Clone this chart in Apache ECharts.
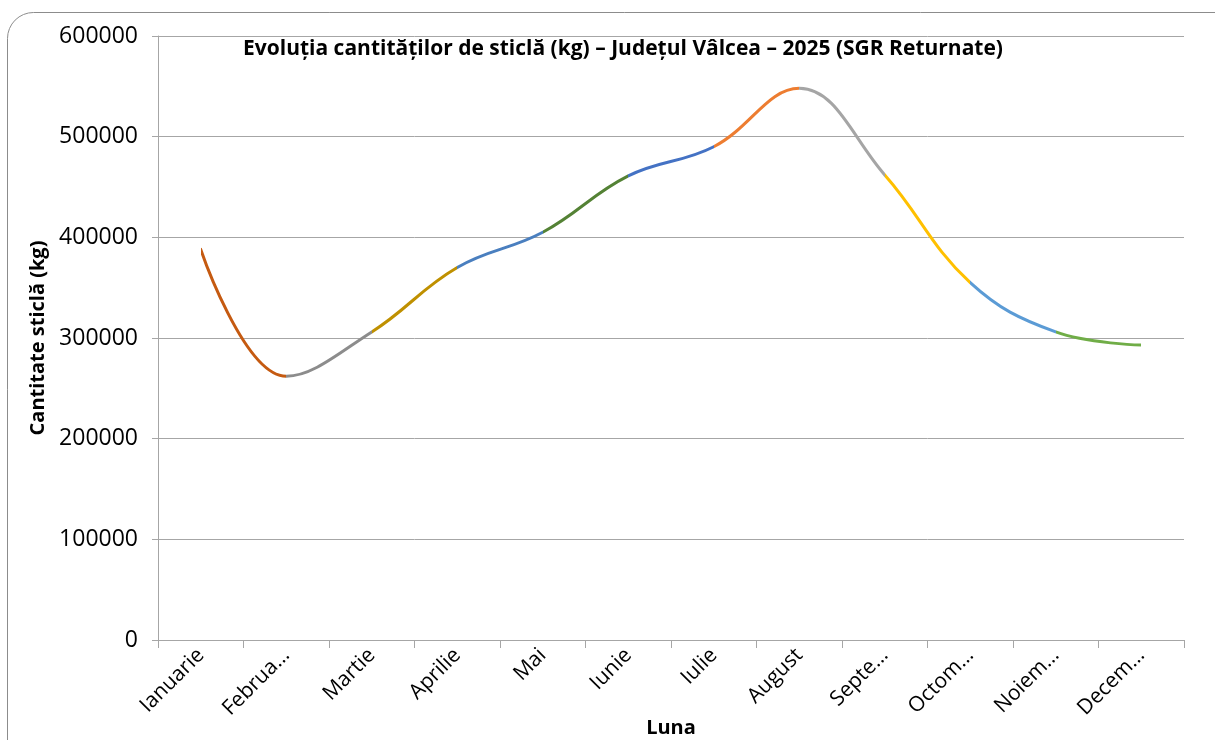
<!DOCTYPE html>
<html>
<head>
<meta charset="utf-8">
<script src="https://cdn.jsdelivr.net/npm/echarts@6/dist/echarts.min.js"></script>
<style>
html,body{margin:0;padding:0;background:#fff;overflow:hidden;width:1215px;height:740px;}
#chart{position:absolute;left:0;top:0;width:1215px;height:740px;}
</style>
</head>
<body>
<div id="chart"></div>
<script>
const months = ["Ianuarie","Februarie","Martie","Aprilie","Mai","Iunie","Iulie","August","Septembrie","Octombrie","Noiembrie","Decembrie"];
const tickLabels = ["Ianuarie","Februa…","Martie","Aprilie","Mai","Iunie","Iulie","August","Septe…","Octom…","Noiem…","Decem…"];
const values = [388000, 262000, 306000, 370000, 405000, 461000, 490000, 548000, 462000, 355000, 306000, 293000];
const segmentColors = ["#C55A11","#8C8C8C","#BF9000","#4A7FBF","#548235","#4472C4","#ED7D31","#A5A5A5","#FFC000","#5B9BD5","#70AD47"];
const yTicks = [0, 100000, 200000, 300000, 400000, 500000, 600000];

const FONT = "Open Sans";
const chart = echarts.init(document.getElementById('chart'), null, {width: 1215, height: 740});

const pieces = segmentColors.map((c, i) => i === 0 ? {gte: 0, lte: 1, color: c} : {gt: i, lte: i + 1, color: c});

chart.setOption({
  animation: false,
  textStyle: {fontFamily: FONT},
  graphic: [{
    type: 'rect',
    shape: {x: 7.5, y: 12.5, width: 1240, height: 780, r: 26},
    style: {fill: 'none', stroke: '#8c8c8c', lineWidth: 1},
    silent: true, z: -1
  }],
  title: {
    text: "Evoluția cantităților de sticlă (kg) – Județul Vâlcea – 2025 (SGR Returnate)",
    left: 618, top: 34, textAlign: 'center',
    textStyle: {fontFamily: FONT, fontSize: 21, fontWeight: 'bold', color: '#000'}
  },
  grid: {left: 158, top: 36, width: 1026, height: 604, containLabel: false, outerBoundsMode: 'none'},
  visualMap: {show: false, type: 'piecewise', dimension: 0, pieces: pieces, seriesIndex: 0},
  xAxis: {
    type: 'category',
    data: months,
    boundaryGap: true,
    name: 'Luna', nameLocation: 'middle', nameGap: 78, nameMoveOverlap: false,
    nameTextStyle: {fontFamily: FONT, fontSize: 20, fontWeight: 'bold', color: '#000'},
    axisLine: {lineStyle: {color: '#a6a6a6', width: 1}},
    axisTick: {show: true, alignWithLabel: false, length: 8, lineStyle: {color: '#a6a6a6'}},
    axisLabel: {
      rotate: 45, margin: 12, interval: 0,
      fontFamily: FONT, fontSize: 21, color: '#000',
      formatter: (v, i) => tickLabels[i]
    },
    splitLine: {show: false}
  },
  yAxis: {
    type: 'value',
    min: yTicks[0], max: yTicks[yTicks.length - 1], interval: 100000,
    name: 'Cantitate sticlă (kg)', nameLocation: 'middle', nameGap: 110, nameRotate: 90, nameMoveOverlap: false,
    nameTextStyle: {fontFamily: FONT, fontSize: 20, fontWeight: 'bold', color: '#000'},
    axisLine: {show: true, lineStyle: {color: '#a6a6a6', width: 1}},
    axisTick: {show: true, length: 6, lineStyle: {color: '#a6a6a6'}},
    axisLabel: {fontFamily: FONT, fontSize: 23, color: '#000', margin: 20, formatter: v => String(v)},
    splitLine: {show: true, lineStyle: {color: '#a6a6a6', width: 1}}
  },
  series: [{
    type: 'line',
    data: values,
    smooth: 0.4,
    showSymbol: false,
    symbol: 'none',
    lineStyle: {width: 3, cap: 'round'}
  }]
});
</script>
</body>
</html>
